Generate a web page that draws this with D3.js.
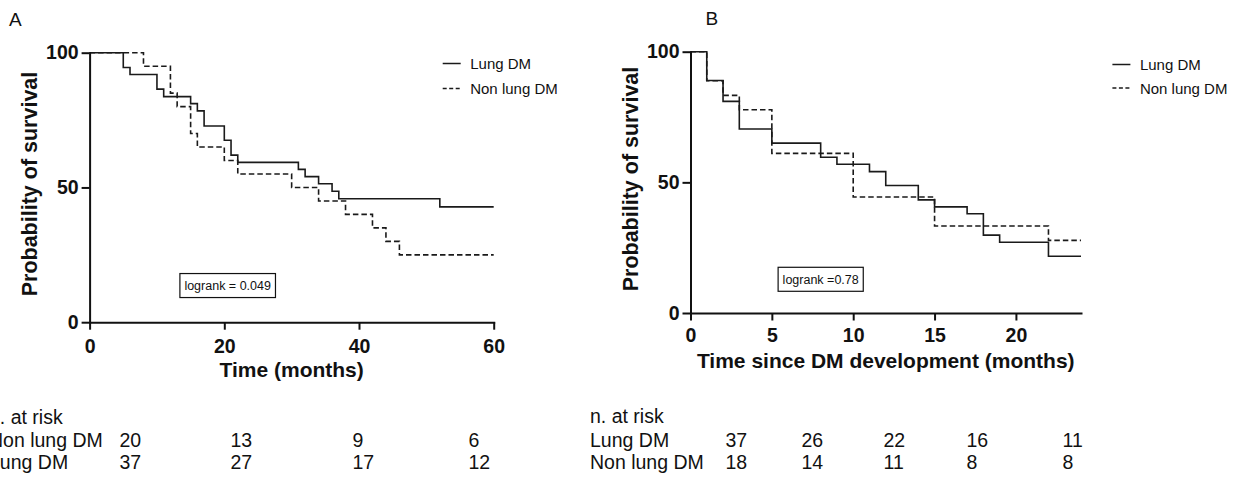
<!DOCTYPE html>
<html>
<head>
<meta charset="utf-8">
<script src="https://cdn.jsdelivr.net/npm/d3@7"></script>
<style>
  html, body { margin: 0; padding: 0; background: #fff; }
  svg { display: block; font-family: "Liberation Sans", Arial, Helvetica, sans-serif; }
</style>
</head>
<body>
<svg id="chart" width="1236" height="492"></svg>
<script>
// ---- Panel A: survival over time (months) ----
const timesA_lung = [0, 5, 6, 10, 11, 15, 16, 17, 20, 21, 22, 31, 32, 34, 36, 37, 52, 60];
const survA_lung  = [100, 94.5, 91.9, 86.5, 83.7, 81.1, 78.4, 72.8, 67.5, 62.0, 59.3, 56.7, 54.0, 51.4, 48.6, 45.8, 42.8, 42.8];
const timesA_non  = [0, 8, 12, 13, 15, 16, 20, 22, 30, 34, 38, 42, 44, 46, 60];
const survA_non   = [100, 95, 85, 80, 70, 65, 60, 55, 50, 45, 40, 35, 30, 25, 25];
const xTicksA = [0, 20, 40, 60];
const logrankA = "logrank = 0.049";

// ---- Panel B: survival since DM development (months) ----
const timesB_lung = [0, 1, 2, 3, 5, 8, 9, 11, 12, 14, 15, 17, 18, 19, 22, 24];
const survB_lung  = [100, 89.0, 81.0, 70.4, 65.0, 59.6, 56.9, 54.1, 48.8, 43.3, 40.6, 38.0, 29.8, 27.1, 21.7, 21.7];
const timesB_non  = [0, 1, 2, 3, 5, 10, 15, 22, 24];
const survB_non   = [100, 88.9, 83.3, 77.8, 61.1, 44.4, 33.3, 27.8, 27.8];
const xTicksB = [0, 5, 10, 15, 20];
const logrankB = "logrank =0.78";

const yTicks = [0, 50, 100];
const seriesNames = ["Lung DM", "Non lung DM"];

// ---- numbers at risk ----
const riskTitle = "n. at risk";
const riskLabelsA = ["Non lung DM", "Lung DM"];
const riskA_non  = [20, 13, 9, 6];
const riskA_lung = [37, 27, 17, 12];
const riskLabelsB = ["Lung DM", "Non lung DM"];
const riskB_lung = [37, 26, 22, 16, 11];
const riskB_non  = [18, 14, 11, 8, 8];

const svg = d3.select("#chart");
const INK = "#1a1a1a";

function drawPanel(cfg) {
  const x = d3.scaleLinear().domain([0, cfg.xMax]).range([cfg.left, cfg.right]);
  const y = d3.scaleLinear().domain([0, 100]).range([cfg.bottom, cfg.top]);
  const g = svg.append("g");

  // panel letter
  g.append("text")
    .attr("x", cfg.letterX).attr("y", cfg.letterY)
    .style("font-size", "19px").attr("fill", "#111")
    .text(cfg.letter);

  // step curves
  const line = d3.line()
    .x(d => x(d[0])).y(d => y(d[1]))
    .curve(d3.curveStepAfter);
  cfg.series.forEach(s => {
    g.append("path")
      .datum(d3.zip(s.t, s.v))
      .attr("d", line)
      .attr("fill", "none")
      .attr("stroke", INK)
      .attr("stroke-width", 1.6)
      .attr("stroke-dasharray", s.dash || null);
  });

  // axes
  const yAxis = d3.axisLeft(y).tickValues(yTicks).tickSize(8).tickSizeOuter(0).tickPadding(3);
  const gy = g.append("g").attr("transform", `translate(${cfg.left},0)`).call(yAxis);
  const xAxis = d3.axisBottom(x).tickValues(cfg.xTicks).tickSize(7.5).tickSizeOuter(0).tickPadding(cfg.xPad);
  const gx = g.append("g").attr("transform", `translate(0,${cfg.bottom})`).call(xAxis);
  [gx, gy].forEach(a => {
    a.attr("font-family", null).attr("font-size", null);
    a.select(".domain").attr("stroke", "#111").attr("stroke-width", 2).attr("stroke-linecap", "square");
    a.selectAll(".tick line").attr("stroke", "#111").attr("stroke-width", 2);
    a.selectAll(".tick text")
      .attr("fill", "#111")
      .style("font-size", "19.5px").style("font-weight", "bold");
  });

  // axis titles
  g.append("text")
    .attr("x", (cfg.left + cfg.right) / 2).attr("y", cfg.bottom + 54.5)
    .attr("text-anchor", "middle")
    .style("font-size", "21px").style("font-weight", "bold").attr("fill", "#111")
    .text(cfg.xTitle);
  g.append("text")
    .attr("transform", `translate(${cfg.left - 52.5},${cfg.yTitleMid}) rotate(-90)`)
    .attr("text-anchor", "middle")
    .style("font-size", "21.5px").style("font-weight", "bold").attr("fill", "#111")
    .text("Probability of survival");

  // logrank annotation box
  const cx = x(cfg.boxAt[0]), cy = y(cfg.boxAt[1]);
  const box = g.append("g");
  const rect = box.append("rect");
  const t = box.append("text")
    .attr("x", cx).attr("y", cy + 4.5)
    .attr("text-anchor", "middle")
    .style("font-size", "12.5px").attr("fill", "#111")
    .text(cfg.logrank);
  const bb = t.node().getBBox();
  rect.attr("x", bb.x - 4.5).attr("y", cy - 12)
    .attr("width", bb.width + 9).attr("height", 24)
    .attr("fill", "#fff").attr("stroke", "#111").attr("stroke-width", 1.2);

  // legend
  const lg = g.append("g").attr("transform", `translate(${cfg.legendX},0)`);
  cfg.series.forEach((s, i) => {
    const ly = cfg.legendY[i];
    lg.append("line")
      .attr("x1", 0).attr("x2", 18).attr("y1", ly).attr("y2", ly)
      .attr("stroke", INK).attr("stroke-width", 1.5)
      .attr("stroke-dasharray", s.dash ? "4,2.5" : null);
    lg.append("text")
      .attr("x", 27.5).attr("y", ly + 5.5)
      .style("font-size", "15px").attr("fill", "#111")
      .text(s.name);
  });

  // numbers at risk table
  const tg = g.append("g").style("font-size", "19.5px").attr("fill", "#111");
  tg.append("text").attr("x", cfg.tableX).attr("y", cfg.rowY[0]).text(riskTitle);
  cfg.rows.forEach((r, i) => {
    const ry = cfg.rowY[i + 1];
    tg.append("text").attr("x", cfg.tableX).attr("y", ry).text(r.label);
    tg.selectAll(null).data(r.values).enter().append("text")
      .attr("x", (d, j) => cfg.tabs[j]).attr("y", ry)
      .text(d => d);
  });
}

drawPanel({
  letter: "A", letterX: 9, letterY: 26,
  left: 89.6, right: 493.7, top: 52.7, bottom: 322.2,
  xMax: 60, xTicks: xTicksA, xPad: 9.5,
  xTitle: "Time (months)", yTitleMid: 184,
  series: [
    { name: seriesNames[0], t: timesA_lung, v: survA_lung },
    { name: seriesNames[1], t: timesA_non, v: survA_non, dash: "5.5,3" }
  ],
  logrank: logrankA, boxAt: [20.5, 13.6],
  legendX: 442.7, legendY: [63.5, 88.5],
  tableX: -11, rowY: [423.5, 446.5, 468.5],
  tabs: [119.5, 230.5, 352.5, 468.5],
  rows: [
    { label: riskLabelsA[0], values: riskA_non },
    { label: riskLabelsA[1], values: riskA_lung }
  ]
});

drawPanel({
  letter: "B", letterX: 705.5, letterY: 24.5,
  left: 690.5, right: 1081, top: 51.7, bottom: 313,
  xMax: 24, xTicks: xTicksB, xPad: 8,
  xTitle: "Time since DM development (months)", yTitleMid: 179,
  series: [
    { name: seriesNames[0], t: timesB_lung, v: survB_lung },
    { name: seriesNames[1], t: timesB_non, v: survB_non, dash: "5.5,3" }
  ],
  logrank: logrankB, boxAt: [8.0, 12.9],
  legendX: 1112.4, legendY: [64.5, 88],
  tableX: 590, rowY: [422.5, 446.5, 468.5],
  tabs: [725.5, 801.5, 883.5, 966.5, 1062.5],
  rows: [
    { label: riskLabelsB[0], values: riskB_lung },
    { label: riskLabelsB[1], values: riskB_non }
  ]
});
</script>
</body>
</html>
